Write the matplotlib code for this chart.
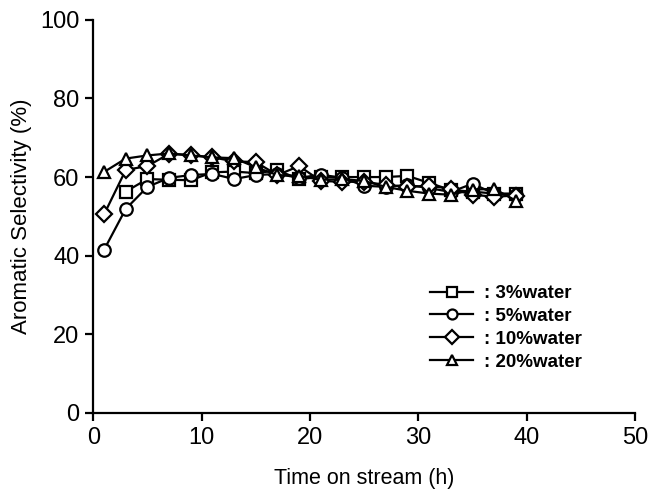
import matplotlib.pyplot as plt

plt.rcParams['font.family'] = ['Liberation Sans', 'DejaVu Sans']

# time on stream (h)
t = [1, 3, 5, 7, 9, 11, 13, 15, 17, 19, 21, 23, 25, 27, 29, 31, 33, 35, 37, 39]

water3 = [56.3, 59.5, 59.3, 59.2, 61.2, 61.4, 61.0, 61.7, 59.5, 60.0, 60.0, 60.0,
          60.0, 60.3, 58.5, 56.7, 56.3, 55.8, 55.8]
water5 = [41.5, 51.9, 57.5, 59.8, 60.5, 60.8, 59.5, 60.5, 60.8, 59.8, 60.6, 59.8,
          57.8, 57.5, 58.0, 57.2, 56.2, 58.3, 55.8, 55.5]
water10 = [50.5, 61.8, 62.8, 65.9, 65.6, 65.0, 64.0, 63.8, 60.5, 62.8, 59.0, 58.8,
           58.8, 58.0, 57.5, 57.8, 57.0, 55.5, 55.0, 55.3]
water20 = [61.3, 64.7, 65.5, 66.0, 65.5, 65.0, 64.8, 62.5, 60.5, 60.3, 59.3, 59.5,
           59.0, 57.5, 56.5, 55.8, 55.5, 56.8, 57.0, 54.0]

fig = plt.figure(figsize=(6.52, 4.94), dpi=100)
ax = fig.add_axes([0.143, 0.164, 0.831, 0.796])

style = dict(color='black', lw=1.6, mfc='white', mec='black', mew=1.6, ms=9)
ax.plot(t[1:], water3, marker='s', label=': 3%water', **style)
ax.plot(t, water5, marker='o', label=': 5%water', **style)
ax.plot(t, water10, marker='D', label=': 10%water', **dict(style, ms=8.5))
ax.plot(t, water20, marker='^', label=': 20%water', **style)

ax.set_xlim(0, 50)
ax.set_ylim(0, 100)
ax.set_xticks(range(0, 51, 10))
ax.set_yticks(range(0, 101, 20))
for s in ['top', 'right']:
    ax.spines[s].set_visible(False)
for s in ['left', 'bottom']:
    ax.spines[s].set_linewidth(1.6)
ax.tick_params(direction='out', length=6, width=1.6, labelsize=17, pad=4)
ax.set_xlabel('Time on stream (h)', fontsize=15.5, labelpad=14)
ax.set_ylabel('Aromatic Selectivity (%)', fontsize=16, labelpad=6)

leg = ax.legend(loc='upper left', bbox_to_anchor=(0.622, 0.325), frameon=False,
                prop={'weight': 'bold', 'size': 13.5}, markerscale=0.8,
                handlelength=2.3, labelspacing=0.3, handletextpad=0.55,
                borderpad=0, borderaxespad=0)

plt.savefig('out.png', dpi=100)
